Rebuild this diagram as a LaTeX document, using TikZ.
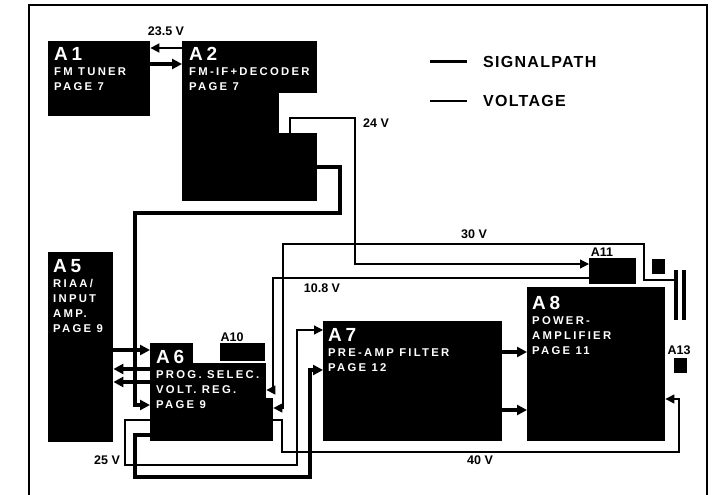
\documentclass[tikz,border=0pt]{standalone}
\usepackage{fontspec}
\setmainfont{Liberation Sans}
\newfontfamily\boxfont[LetterSpace=20]{Liberation Sans}
\newfontfamily\legfont[LetterSpace=8]{Liberation Sans}
\usetikzlibrary{arrows.meta}

\tikzset{
  block/.style={fill=black, inner sep=0pt, anchor=north west},
  blocktext/.style={text=white, inner sep=0pt, anchor=north west, align=left,
    font=\boxfont\bfseries\fontsize{11.3}{15}\selectfont},
  wirelabel/.style={inner sep=0pt, font=\bfseries\fontsize{12.5}{14}\selectfont},
  signal/.style={line width=3.2pt, -{Triangle[length=10pt,width=10pt]}},
  voltage/.style={line width=1.2pt, -{Triangle[length=9pt,width=9pt]}},
}
\newcommand{\blocktitle}[1]{{\fontsize{19}{15}\selectfont #1}}

\begin{document}
\begin{tikzpicture}[x=1pt,y=-1pt]
   \useasboundingbox (0,0) rectangle (716,495);

   % Frame
   \draw[line width=2pt] (29,500) -- (29,5) -- (707,5) -- (707,500);

   % Blocks
   \node[block, minimum width=102pt, minimum height=75pt] (a1) at (48,41) {};
   \node[block, minimum width=135pt, minimum height=160pt] (a2) at (182,41) {};
   \fill[white] (279,93) rectangle (318,133);
   \node[block, minimum width=65pt, minimum height=190pt] (a5) at (48,252) {};
   \node[block, minimum width=116pt, minimum height=78pt] (a6) at (150,363) {};
   \node[block, minimum width=43pt, minimum height=21pt] (a6tab) at (150,343) {};
   \node[block, minimum width=8pt, minimum height=43pt] (a6ext) at (265,398) {};
   \node[block, minimum width=179pt, minimum height=120pt] (a7) at (323,321) {};
   \node[block, minimum width=138pt, minimum height=154pt] (a8) at (527,287) {};
   \node[block, minimum width=45pt, minimum height=18pt] (a10) at (220,343) {};
   \node[block, minimum width=47pt, minimum height=26pt] (a11) at (589,258) {};
   \node[block, minimum width=13pt, minimum height=15pt] (a13) at (674,358) {};
   \node[block, minimum width=13pt, minimum height=15pt] (sq) at (652,259) {};
   \node[block, minimum width=3.5pt, minimum height=50pt] (c1) at (674,270) {};
   \node[block, minimum width=3.5pt, minimum height=50pt] (c2) at (682,270) {};

   % Block texts
   \node[blocktext] (a1t) at (54,47) {\blocktitle{A1}\\FM TUNER\\PAGE 7};
   \node[blocktext] (a2t) at (189,47) {\blocktitle{A2}\\FM-IF+DECODER\\PAGE 7};
   \node[blocktext] (a5t) at (53,259) {\blocktitle{A5}\\RIAA/\\INPUT\\AMP.\\PAGE 9};
   \node[blocktext] (a6t) at (156,350) {\blocktitle{A6}\\PROG. SELEC.\\VOLT. REG.\\PAGE 9};
   \node[blocktext] (a7t) at (328,328) {\blocktitle{A7}\\PRE-AMP FILTER\\PAGE 12};
   \node[blocktext] (a8t) at (532,296) {\blocktitle{A8}\\POWER-\\AMPLIFIER\\PAGE 11};

   % Small labels
   \node[wirelabel] (l10) at (232,337) {A10};
   \node[wirelabel] (l11) at (602,252) {A11};
   \node[wirelabel] (l13) at (679,350) {A13};

   % Signal paths
   \draw[signal] (a1.east |- 0,64) -- (a2.west |- 0,64);
   \draw[signal] (a2.east |- 0,167) -| (340,213) -| (135,405) -- (a6.west |- 0,405);
   \draw[signal] (a5.east |- 0,350) -- (a6tab.west |- 0,350);
   \foreach \y in {369,382} {
       \draw[signal] (a6.west |- 0,\y) -- (a5.east |- 0,\y);
   }
   \draw[signal] (a6.west |- 0,435) -| (135,477) -| (310,370) -- (a7.west |- 0,370);
   \foreach \y in {352,410} {
       \draw[signal] (a7.east |- 0,\y) -- (a8.west |- 0,\y);
   }

   % Voltages
   \coordinate (a2v) at (290,133);
   \draw[voltage, line width=1.8pt] (a2.west |- 0,48) -- (a1.east |- 0,48);
   \node[wirelabel] (v235) at (166,31) {23.5 V};
   \draw[voltage] (a2v) -- (290,118) -| (355,264) -- (a11.west |- 0,264);
   \node[wirelabel] (v24) at (376,123) {24 V};
   \draw[voltage] (a11.west |- 0,278) -| (273,390) -- (a6.east |- 0,390);
   \node[wirelabel] (v108) at (322,288) {10.8 V};
   \draw[voltage] (c1.west |- 0,280) -- (644,280) |- (283,244) |- (a6ext.east |- 0,408);
   \node[wirelabel] (v30) at (474,234) {30 V};
   \draw[voltage] (a6ext.east |- 0,420) -| (282,452) -| (679,399) -- (a8.east |- 0,399);
   \node[wirelabel] (v40) at (480,460) {40 V};
   \draw[voltage] (a6.west |- 0,420) -| (125,465) -| (297,330) -- (a7.west |- 0,330);
   \node[wirelabel] (v25) at (107,460) {25 V};

   % Legend
   \node[anchor=west, inner sep=0pt, font=\legfont\bfseries\fontsize{16}{18}\selectfont] (lsig) at (483,62) {SIGNALPATH};
   \node[anchor=west, inner sep=0pt, font=\legfont\bfseries\fontsize{16}{18}\selectfont] (lvolt) at (483,101) {VOLTAGE};
   \draw[line width=3pt] ([xshift=-53pt]lsig.west) -- ([xshift=-16pt]lsig.west);
   \draw[line width=1.2pt] ([xshift=-53pt]lvolt.west) -- ([xshift=-16pt]lvolt.west);
\end{tikzpicture}
\end{document}
